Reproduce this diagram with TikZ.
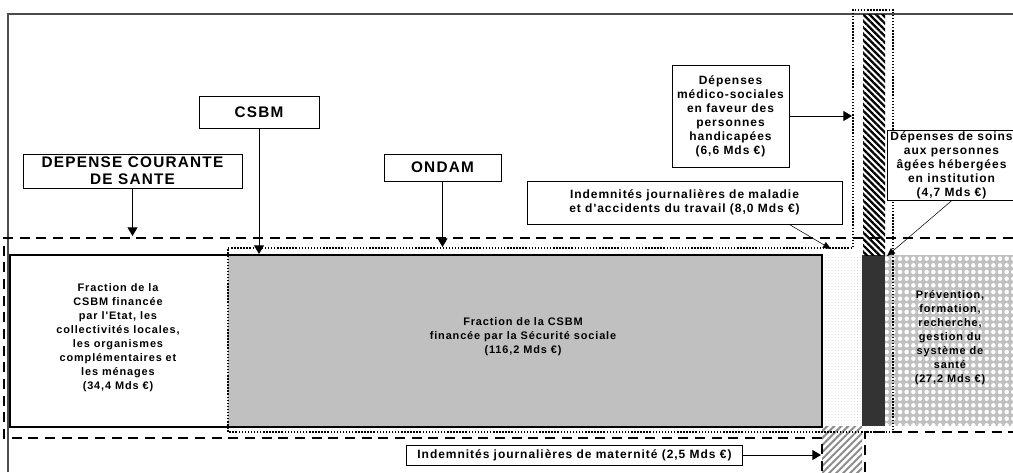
\documentclass[tikz,border=0pt]{standalone}
\usepackage{fontspec}
\setmainfont{Liberation Sans}
\newfontfamily\labfont[LetterSpace=8]{Liberation Sans Bold}
\usetikzlibrary{arrows.meta, patterns.meta}

\definecolor{csbmgray}{HTML}{C0C0C0}
\definecolor{bardark}{HTML}{333333}

\tikzset{
  lbl/.style={draw, fill=white, align=center, inner sep=1pt,
    font=\labfont\fontsize{9}{10.5}\selectfont},
  biglbl/.style={lbl, font=\labfont\fontsize{11.5}{13}\selectfont},
  txt/.style={align=center, font=\labfont\fontsize{8.2}{10.5}\selectfont},
  dcsline/.style={line width=1.8pt, dash pattern=on 7.5pt off 5pt},
  ondamline/.style={line width=1.1pt, dash pattern=on 1.1pt off 1.2pt},
  lnk/.style={-{Stealth[inset=0pt,length=6.5pt,width=7.5pt]}, line width=0.7pt},
  lnkthin/.style={-{Stealth[inset=0pt,length=6pt,width=5pt]}, line width=0.4pt}
}

\begin{document}
\begin{tikzpicture}[x=0.75pt, y=-0.75pt]
  \useasboundingbox (0,0) rectangle (1013,472);

  % frame
  \draw[black!70, line width=0.8pt] (8,472) -- (8,14) -- (1013,14);

  % blocks
  \fill[csbmgray] (228,255) rectangle (822,427);
  \fill[pattern={Dots[distance=2.4pt, radius=0.3pt]}, pattern color=gray!55] (822,255) rectangle (862,426);
  \fill[bardark] (862,255) rectangle (885,426);
  \fill[pattern={Lines[angle=-45, distance=3.4pt, line width=1.7pt]}] (863,14) rectangle (885,255);
  \fill[csbmgray, postaction={pattern={Dots[distance=5pt, radius=1.7pt]}, pattern color=white}] (885,255) rectangle (1013,426);
  \fill[pattern={Lines[angle=45, distance=3.7pt, line width=1.5pt]}, pattern color=black!45] (822,426) rectangle (862,472);
  \draw[line width=1.6pt] (10,255) rectangle (822,427);

  % ONDAM and DCS outlines
  \draw[ondamline] (228,248) -- (853,248) -- (853,10) -- (893,10) -- (893,432) -- (228,432) -- cycle;
  \draw[dcsline] (1013,238) -- (4,238) -- (4,438) -- (822,438) -- (822,472);
  \draw[dcsline] (865,472) -- (865,432) -- (1013,432);

  % texts in blocks
  \node[txt] (publ) at (118,338) {Fraction de la\\CSBM financée\\par l'Etat, les\\collectivités locales,\\les organismes\\complémentaires et\\les ménages\\(34,4 Mds €)};
  \node[txt] (secu) at (523,337) {Fraction de la CSBM\\financée par la Sécurité sociale\\(116,2 Mds €)};
  \node[txt] (prev) at (950,338) {Prévention,\\formation,\\recherche,\\gestion du\\système de\\santé\\(27,2 Mds €)};

  % labels
  \node[biglbl, minimum width=164pt, minimum height=25.5pt] (dcsbox) at (132.5,171) {DEPENSE COURANTE\\DE SANTE};
  \node[biglbl, minimum width=90pt, minimum height=24pt] (csbmbox) at (259,112) {CSBM};
  \node[biglbl, minimum width=87.75pt, minimum height=20.25pt] (ondambox) at (442.5,167.5) {ONDAM};
  \node[lbl, minimum width=87.75pt, minimum height=76.5pt] (handibox) at (730.5,116) {Dépenses\\médico-sociales\\en faveur des\\personnes\\handicapées\\(6,6 Mds €)};
  \node[lbl, minimum width=236.25pt, minimum height=32.25pt] (ijmbox) at (684.5,202.5) {Indemnités journalières de maladie\\et d'accidents du travail (8,0 Mds €)};
  \node[lbl, minimum width=96.75pt, minimum height=51.75pt] (agesbox) at (951.5,165.5) {Dépenses de soins\\aux personnes\\âgées hébergées\\en institution\\(4,7 Mds €)};
  \node[lbl, minimum width=252pt, minimum height=15pt] (materbox) at (574.5,455) {Indemnités journalières de maternité (2,5 Mds €)};

  % arrow ends
  \coordinate (dcsin) at (132.5,236);
  \coordinate (csbmin) at (259,254);
  \coordinate (ondamin) at (442.5,247);
  \coordinate (handiin) at (852,116);
  \coordinate (ijmin) at (831,249);
  \coordinate (agesin) at (887,256);
  \coordinate (materin) at (821,455);

  \foreach \from/\to in {dcsbox/dcsin, csbmbox/csbmin, ondambox/ondamin, handibox/handiin, materbox/materin}{
    \draw[lnk] (\from) -- (\to);
  };
  \draw[lnkthin] ([xshift=-40pt]ijmbox.south east) -- (ijmin);
  \draw[lnkthin] (agesbox.south) -- (agesin);
\end{tikzpicture}
\end{document}
